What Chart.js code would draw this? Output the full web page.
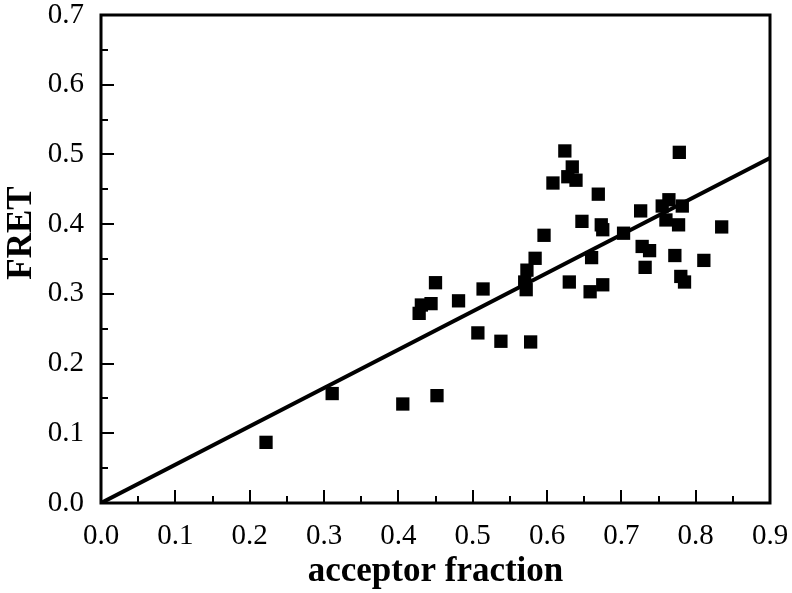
<!DOCTYPE html>
<html>
<head>
<meta charset="utf-8">
<script src="https://cdn.jsdelivr.net/npm/chart.js@4.4.1/dist/chart.umd.min.js"></script>
<style>
  html, body { margin: 0; padding: 0; background: #fff; }
  #wrap { width: 792px; height: 593px; }
</style>
</head>
<body>
<div id="wrap"><canvas id="c" width="792" height="593"></canvas></div>
<script>
// ---- data ----
const acceptorFraction = [0.222, 0.311, 0.406, 0.452, 0.428, 0.431, 0.444, 0.450, 0.481, 0.514,
  0.507, 0.538, 0.578, 0.570, 0.572, 0.573, 0.584, 0.596, 0.608, 0.624,
  0.628, 0.634, 0.639, 0.630, 0.647, 0.660, 0.658, 0.669, 0.673, 0.675,
  0.675, 0.703, 0.726, 0.728, 0.738, 0.732, 0.755, 0.764, 0.760, 0.772,
  0.777, 0.778, 0.782, 0.780, 0.785, 0.811, 0.835];
const fretValues = [0.087, 0.157, 0.142, 0.154, 0.272, 0.284, 0.286, 0.316, 0.290, 0.307,
  0.244, 0.232, 0.231, 0.317, 0.306, 0.334, 0.351, 0.384, 0.459, 0.505,
  0.468, 0.482, 0.463, 0.317, 0.404, 0.352, 0.303, 0.443, 0.399, 0.392,
  0.313, 0.387, 0.419, 0.368, 0.362, 0.338, 0.426, 0.435, 0.406, 0.355,
  0.399, 0.503, 0.426, 0.325, 0.317, 0.348, 0.396];
const fitX = [0.0, 0.9];
const fitY = [0.0, 0.495];
const xTickValues = [0.0, 0.1, 0.2, 0.3, 0.4, 0.5, 0.6, 0.7, 0.8, 0.9];
const yTickValues = [0.0, 0.1, 0.2, 0.3, 0.4, 0.5, 0.6, 0.7];
const xTitle = 'acceptor fraction';
const yTitle = 'FRET';

const FONT = "'Liberation Serif', 'Times New Roman', serif";

const scatterPoints = acceptorFraction.map((x, i) => ({ x: x, y: fretValues[i] }));
const fitPoints = fitX.map((x, i) => ({ x: x, y: fitY[i] }));

const framePlugin = {
  id: 'frameTicks',
  afterDraw(chart) {
    const ctx = chart.ctx;
    const a = chart.chartArea;
    const xs = chart.scales.x, ys = chart.scales.y;
    ctx.save();
    ctx.strokeStyle = '#000';
    // inward ticks (major + minor)
    ctx.lineWidth = 2;
    ctx.beginPath();
    for (let i = 0; i < xTickValues.length; i++) {
      const v = xTickValues[i];
      const px = Math.round(xs.getPixelForValue(v));
      ctx.moveTo(px, a.bottom); ctx.lineTo(px, a.bottom - 13);
      if (i < xTickValues.length - 1) {
        const pm = Math.round(xs.getPixelForValue(v + 0.05));
        ctx.moveTo(pm, a.bottom); ctx.lineTo(pm, a.bottom - 7);
      }
    }
    for (let i = 0; i < yTickValues.length; i++) {
      const v = yTickValues[i];
      const py = Math.round(ys.getPixelForValue(v));
      ctx.moveTo(a.left, py); ctx.lineTo(a.left + 13, py);
      if (i < yTickValues.length - 1) {
        const pm = Math.round(ys.getPixelForValue(v + 0.05));
        ctx.moveTo(a.left, pm); ctx.lineTo(a.left + 7, pm);
      }
    }
    ctx.stroke();
    // frame
    ctx.lineWidth = 3;
    ctx.strokeRect(a.left, a.top, a.right - a.left, a.bottom - a.top);
    // y title
    ctx.fillStyle = '#000';
    ctx.font = "bold 35px " + FONT;
    ctx.textAlign = 'center';
    ctx.textBaseline = 'middle';
    ctx.translate(22, 233);
    ctx.rotate(-Math.PI / 2);
    ctx.fillText(yTitle, 0, 0);
    ctx.restore();
  }
};

new Chart(document.getElementById('c'), {
  type: 'scatter',
  data: {
    datasets: [
      {
        type: 'line',
        label: 'fit',
        data: fitPoints,
        borderColor: '#000',
        borderWidth: 4,
        pointRadius: 0,
        fill: false,
        tension: 0,
        order: 2
      },
      {
        label: 'FRET',
        data: scatterPoints,
        pointStyle: 'rect',
        pointRadius: 9.4,
        pointHoverRadius: 9.4,
        backgroundColor: '#000',
        borderColor: '#000',
        borderWidth: 0,
        order: 1
      }
    ]
  },
  options: {
    responsive: false,
    animation: false,
    events: [],
    layout: { padding: { left: 0, top: 15, right: 22, bottom: 0 } },
    plugins: { legend: { display: false }, tooltip: { enabled: false } },
    scales: {
      x: {
        type: 'linear',
        min: 0, max: 0.9,
        afterFit(s) { s.height = 90; s.paddingLeft = 0; s.paddingRight = 0; },
        afterBuildTicks(s) { s.ticks = xTickValues.map(v => ({ value: v })); },
        ticks: {
          color: '#000',
          font: { family: FONT, size: 29 },
          padding: 16,
          maxRotation: 0,
          autoSkip: false,
          callback: v => Number(v).toFixed(1)
        },
        grid: { display: false, drawTicks: false },
        border: { display: false },
        title: {
          display: true,
          text: xTitle,
          color: '#000',
          font: { family: FONT, size: 35, weight: 'bold' },
          padding: { top: 0, bottom: 0 }
        }
      },
      y: {
        type: 'linear',
        min: 0, max: 0.7,
        afterFit(s) { s.width = 101; s.paddingTop = 0; s.paddingBottom = 0; },
        afterBuildTicks(s) { s.ticks = yTickValues.map(v => ({ value: v })); },
        ticks: {
          color: '#000',
          font: { family: FONT, size: 29 },
          padding: 17,
          autoSkip: false,
          callback: v => Number(v).toFixed(1)
        },
        grid: { display: false, drawTicks: false },
        border: { display: false }
      }
    }
  },
  plugins: [framePlugin]
});
</script>
</body>
</html>
